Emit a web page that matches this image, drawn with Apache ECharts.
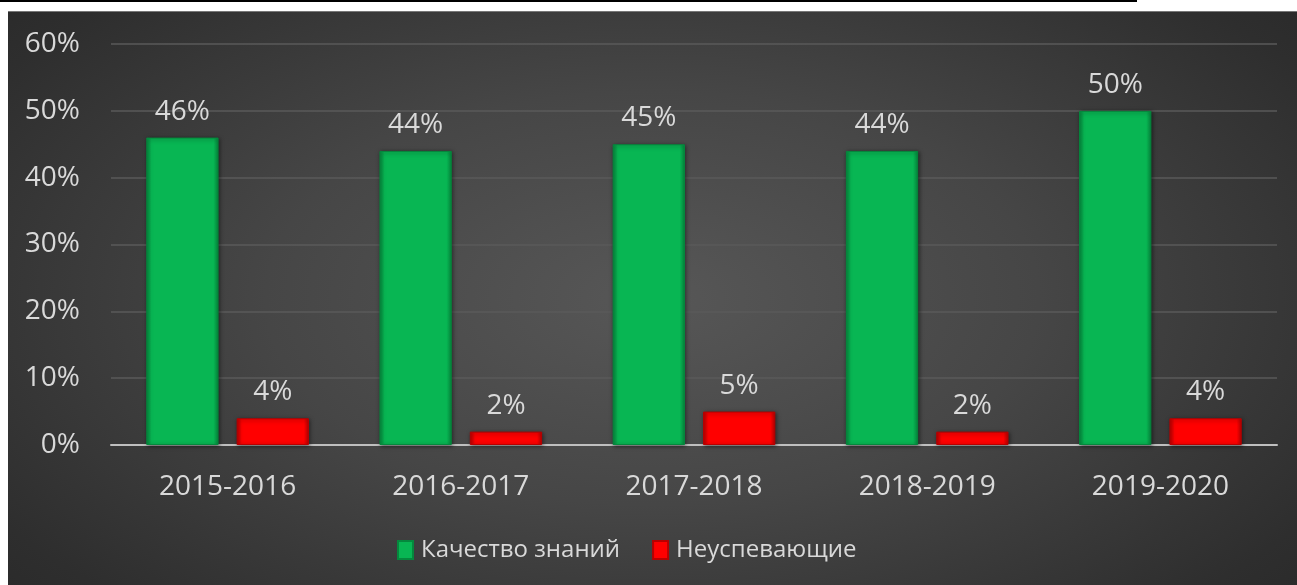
<!DOCTYPE html>
<html>
<head>
<meta charset="utf-8">
<script src="https://cdn.jsdelivr.net/npm/echarts@6/dist/echarts.min.js"></script>
<style>
html,body{margin:0;padding:0;background:#fff;width:1297px;height:585px;overflow:hidden;}
#topline{position:absolute;left:0;top:0;width:1137px;height:2px;background:#000;}
#chart{position:absolute;left:8px;top:11px;width:1289px;height:574px;
background:radial-gradient(ellipse 75% 90% at 50% 50%, #575757 0%, #464646 40%, #2e2e2e 80%, #262626 100%);
box-shadow: inset 0 1px 0 #777;}
</style>
</head>
<body>
<div id="topline"></div>
<div id="chart"></div>
<script>
var categories = ['2015-2016', '2016-2017', '2017-2018', '2018-2019', '2019-2020'];
var seriesNames = ['Качество знаний', 'Неуспевающие'];
var qualityValues = [46, 44, 45, 44, 50];
var failingValues = [4, 2, 5, 2, 4];
var yTicks = { min: 0, max: 60, interval: 10 };

var chart = echarts.init(document.getElementById('chart'), null, { renderer: 'canvas' });
var font = '"Open Sans", sans-serif';
var txt = '#d9d9d9';

function barStyle(base, dark) {
  return {
    color: {
      type: 'linear', x: 0, y: 0, x2: 1, y2: 0,
      colorStops: [
        { offset: 0, color: dark },
        { offset: 0.07, color: base },
        { offset: 0.93, color: base },
        { offset: 1, color: dark }
      ]
    },
    borderColor: dark,
    borderWidth: 1,
    shadowColor: 'rgba(0,0,0,0.5)',
    shadowBlur: 4,
    shadowOffsetX: 1,
    shadowOffsetY: 1
  };
}

chart.setOption({
  backgroundColor: 'transparent',
  animation: false,
  textStyle: { fontFamily: font },
  grid: { left: 103, right: 20, top: 33, bottom: 140, containLabel: false },
  legend: {
    left: 384,
    top: 522,
    icon: 'rect',
    itemWidth: 15,
    itemHeight: 18,
    itemGap: 32,
    data: seriesNames,
    textStyle: { color: txt, fontSize: 24, fontFamily: font, padding: [0, 0, 0, 3] }
  },
  xAxis: {
    type: 'category',
    data: categories,
    axisLine: { show: true, lineStyle: { color: '#bfbfbf', width: 2 } },
    axisTick: { show: false },
    axisLabel: { color: txt, fontSize: 28, fontFamily: font, margin: 28 }
  },
  yAxis: {
    type: 'value',
    min: yTicks.min,
    max: yTicks.max,
    interval: yTicks.interval,
    axisLine: { show: false },
    axisTick: { show: false },
    axisLabel: { color: txt, fontSize: 28, fontFamily: font, margin: 31, formatter: '{value}%' },
    splitLine: { lineStyle: { color: '#5a5a5a', width: 1.5 } }
  },
  series: [
    {
      name: seriesNames[0],
      type: 'bar',
      data: qualityValues,
      barWidth: '31%',
      barGap: '25%',
      itemStyle: barStyle('#08b653', '#05883d'),
      label: { show: true, position: 'top', distance: 12, color: txt, fontSize: 28, fontFamily: font, formatter: '{c}%' }
    },
    {
      name: seriesNames[1],
      type: 'bar',
      data: failingValues,
      barWidth: '31%',
      barGap: '25%',
      itemStyle: barStyle('#ff0000', '#b80000'),
      label: { show: true, position: 'top', distance: 12, color: txt, fontSize: 28, fontFamily: font, formatter: '{c}%' }
    }
  ]
});
</script>
</body>
</html>
